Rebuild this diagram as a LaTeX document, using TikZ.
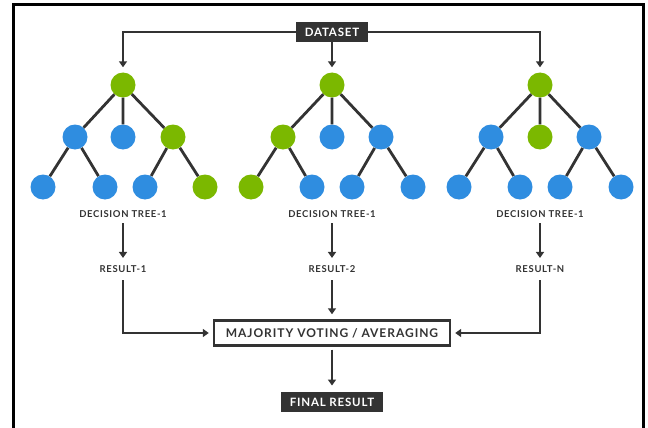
\documentclass[tikz,border=0pt]{standalone}
\usepackage{xcolor}
\usepackage{fontspec}
\setmainfont{Lato}
\usepackage{tikz}
\usetikzlibrary{arrows,arrows.meta,positioning}

\definecolor{leafgreen}{HTML}{7BB800}
\definecolor{leafblue}{HTML}{2F8DE0}
\definecolor{inkdark}{HTML}{333333}

\begin{document}
\begin{tikzpicture}[x=1pt, y=-1pt,
        dot/.style={circle, inner sep=0pt, minimum size=25pt},
        gdot/.style={dot, fill=leafgreen},
        bdot/.style={dot, fill=leafblue},
        edge/.style={draw=inkdark, line width=2.8pt},
        flow/.style={draw=inkdark, line width=2.4pt, -{Triangle[length=6pt,width=8pt]}},
        lbl/.style={font=\fontsize{9.5}{11}\selectfont\bfseries\addfontfeature{LetterSpace=7}, text=inkdark},
        darkbox/.style={fill=inkdark, text=white, inner xsep=9pt, inner ysep=6pt,
                        font=\fontsize{11.5}{13}\selectfont\bfseries\addfontfeature{LetterSpace=7}},
        votebox/.style={draw=inkdark, line width=2.4pt, fill=white, minimum width=236pt, minimum height=25pt,
                        text=inkdark, font=\fontsize{12}{14}\selectfont\bfseries\addfontfeature{LetterSpace=8}},
    ]
        \useasboundingbox (0,0) rectangle (648,428);
        % outer frame (open at the bottom)
        \draw[line width=3pt] (13,428) -- (13,5) -- (643,5) -- (643,428);

        \node[darkbox] (dataset) at (332, 32) {DATASET};

        % tree 1
        \node[gdot] (t1r)  at (123, 85)  {};
        \node[bdot] (t1a)  at (75, 137)  {};
        \node[bdot] (t1b)  at (123, 137) {};
        \node[gdot] (t1c)  at (173, 137) {};
        \node[bdot] (t1aa) at (43, 187)  {};
        \node[bdot] (t1ab) at (105, 187) {};
        \node[bdot] (t1ca) at (145, 187) {};
        \node[gdot] (t1cb) at (205, 187) {};

        % tree 2
        \node[gdot] (t2r)  at (332, 85)  {};
        \node[gdot] (t2a)  at (283, 137) {};
        \node[bdot] (t2b)  at (332, 137) {};
        \node[bdot] (t2c)  at (381, 137) {};
        \node[gdot] (t2aa) at (251, 187) {};
        \node[bdot] (t2ab) at (312, 187) {};
        \node[bdot] (t2ca) at (352, 187) {};
        \node[bdot] (t2cb) at (413, 187) {};

        % tree 3
        \node[gdot] (t3r)  at (540, 85)  {};
        \node[bdot] (t3a)  at (491, 137) {};
        \node[gdot] (t3b)  at (540, 137) {};
        \node[bdot] (t3c)  at (589, 137) {};
        \node[bdot] (t3aa) at (459, 187) {};
        \node[bdot] (t3ab) at (520, 187) {};
        \node[bdot] (t3ca) at (560, 187) {};
        \node[bdot] (t3cb) at (621, 187) {};

        \draw[edge] (t1r) -- (t1a)  (t1r) -- (t1b)  (t1r) -- (t1c);
        \draw[edge] (t1a) -- (t1aa) (t1a) -- (t1ab) (t1c) -- (t1ca) (t1c) -- (t1cb);
        \draw[edge] (t2r) -- (t2a)  (t2r) -- (t2b)  (t2r) -- (t2c);
        \draw[edge] (t2a) -- (t2aa) (t2a) -- (t2ab) (t2c) -- (t2ca) (t2c) -- (t2cb);
        \draw[edge] (t3r) -- (t3a)  (t3r) -- (t3b)  (t3r) -- (t3c);
        \draw[edge] (t3a) -- (t3aa) (t3a) -- (t3ab) (t3c) -- (t3ca) (t3c) -- (t3cb);

        \node[lbl] (tree1) at (123, 214) {DECISION TREE-1};
        \node[lbl] (tree2) at (332, 214) {DECISION TREE-1};
        \node[lbl] (tree3) at (540, 214) {DECISION TREE-1};

        \node[lbl] (res1) at (123, 269) {RESULT-1};
        \node[lbl] (res2) at (332, 269) {RESULT-2};
        \node[lbl] (resn) at (540, 269) {RESULT-N};

        \node[votebox] (vote) at (332, 333) {MAJORITY VOTING / AVERAGING};
        \node[darkbox] (final) at (332, 402) {FINAL RESULT};

        \draw[flow, shorten >=5pt] (dataset) -| (t1r);
        \draw[flow, shorten >=5pt] (dataset) -| (t3r);
        \draw[flow, shorten >=5pt] (dataset) -- (t2r);

        \draw[flow, shorten <=2pt, shorten >=4pt] (tree1) -- (res1);
        \draw[flow, shorten <=2pt, shorten >=4pt] (tree2) -- (res2);
        \draw[flow, shorten <=2pt, shorten >=4pt] (tree3) -- (resn);

        \draw[flow, shorten <=4pt, shorten >=4pt] (res1) |- (vote);
        \draw[flow, shorten <=4pt, shorten >=4pt] (resn) |- (vote);
        \draw[flow, shorten <=4pt, shorten >=5pt] (res2) -- (vote);
        \draw[flow, shorten <=3pt, shorten >=6pt] (vote) -- (final);
    \end{tikzpicture}
\end{document}
